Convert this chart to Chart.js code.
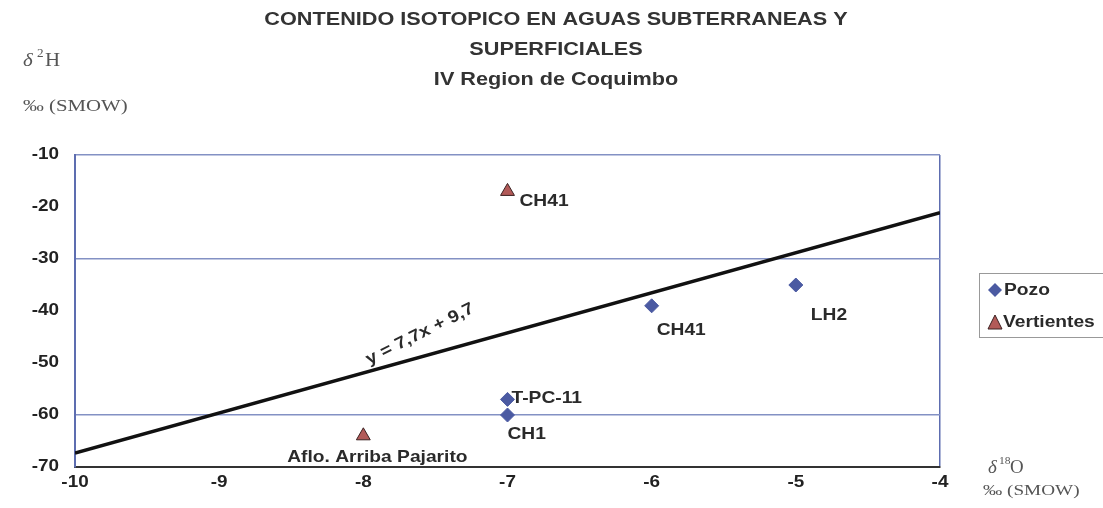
<!DOCTYPE html>
<html>
<head>
<meta charset="utf-8">
<script src="https://cdn.jsdelivr.net/npm/chart.js@4.4.1/dist/chart.umd.min.js"></script>
<style>
  html, body { margin: 0; padding: 0; background: #fff; }
  #wrap { width: 1103px; height: 508px; }
</style>
</head>
<body>
<div id="wrap"><canvas id="isoChart" width="1103" height="508"></canvas></div>
<script>
// valores
const pozoX = [-7, -7, -6, -5];
const pozoY = [-57, -60, -39, -35];
const pozoNames = ["T-PC-11", "CH1", "CH41", "LH2"];

const vertX = [-7, -8];
const vertY = [-17, -64];
const vertNames = ["CH41", "Aflo. Arriba Pajarito"];

const lineX = [-10, -4];
const lineY = [-67.3, -21.1];

const xTicks = [-10, -9, -8, -7, -6, -5, -4];
const yTicks = [-70, -60, -50, -40, -30, -20, -10];

// donde va cada etiqueta respecto a su punto (px)
const pozoLabelPos = [[4, -1, "left"], [0, 19, "left"], [5, 25, "left"], [15, 30, "left"]];
const vertLabelPos = [[12, 10, "left"], [14, 22, "center"]];

const blue = "#4B5AA2";
const red = "#B25A58";
const gridBlue = "#8391C4";
const SANS = "'Liberation Sans', Arial, sans-serif";
const SERIF = "'Liberation Serif', 'Times New Roman', serif";

const pts = (xs, ys) => xs.map((x, i) => ({ x: x, y: ys[i] }));

// texto estirado en horizontal (el original viene algo ancho)
function txt(c, s, x, y, align, font, sx, rot) {
  c.save();
  c.translate(x, y);
  if (rot) c.rotate(rot);
  c.scale(sx, 1);
  c.font = font;
  c.textAlign = align;
  c.fillText(s, 0, 0);
  c.restore();
}

const textPlugin = {
  id: "textPlugin",
  afterDraw(chart) {
    const c = chart.ctx;
    const xs = chart.scales.x, ys = chart.scales.y;
    c.save();
    c.textBaseline = "middle";

    // titulo
    c.fillStyle = "#333";
    const tf = "bold 19px " + SANS;
    txt(c, "CONTENIDO ISOTOPICO EN AGUAS SUBTERRANEAS Y", 556, 20, "center", tf, 1.14);
    txt(c, "SUPERFICIALES", 556, 50, "center", tf, 1.14);
    txt(c, "IV Region de Coquimbo", 556, 80, "center", tf, 1.14);

    // ticks
    c.fillStyle = "#222";
    const kf = "bold 16px " + SANS;
    yTicks.forEach((v) => txt(c, String(v), 59, ys.getPixelForValue(v), "right", kf, 1.18));
    xTicks.forEach((v) => txt(c, String(v), xs.getPixelForValue(v), 483, "center", kf, 1.18));

    // etiquetas de puntos
    c.fillStyle = "#2a2a2a";
    const lf = "bold 17px " + SANS;
    const put = (xv, yv, names, pos) => {
      names.forEach((n, i) => {
        const px = xs.getPixelForValue(xv[i]);
        const py = ys.getPixelForValue(yv[i]);
        txt(c, n, px + pos[i][0], py + pos[i][1], pos[i][2], lf, 1.13);
      });
    };
    put(pozoX, pozoY, pozoNames, pozoLabelPos);
    put(vertX, vertY, vertNames, vertLabelPos);

    // ecuacion de la recta
    txt(c, "y = 7,7x + 9,7", 420, 334, "center", "bold 17px " + SANS, 1.13, -26.5 * Math.PI / 180);

    // titulos de ejes
    c.fillStyle = "#555";
    txt(c, "\u03B4", 23, 61, "left", "italic 19px " + SERIF, 1.1);
    txt(c, "2", 37, 54, "left", "12px " + SERIF, 1.1);
    txt(c, "H", 45, 61, "left", "19px " + SERIF, 1.1);
    txt(c, "\u2030 (SMOW)", 23, 107, "left", "16px " + SERIF, 1.3);

    txt(c, "\u03B4", 988, 468, "left", "italic 18px " + SERIF, 1.05);
    txt(c, "18", 999, 461, "left", "11px " + SERIF, 1.05);
    txt(c, "O", 1010, 468, "left", "18px " + SERIF, 1.05);
    txt(c, "\u2030 (SMOW)", 983, 491, "left", "15px " + SERIF, 1.28);

    // leyenda
    c.strokeStyle = "#999";
    c.lineWidth = 1;
    c.strokeRect(979.5, 273.5, 130, 64);
    c.fillStyle = blue;
    c.beginPath();
    c.moveTo(995, 283); c.lineTo(1002, 290); c.lineTo(995, 297); c.lineTo(988, 290);
    c.closePath(); c.fill();
    c.fillStyle = red;
    c.strokeStyle = "#3a2020";
    c.beginPath();
    c.moveTo(995, 315); c.lineTo(1002, 329); c.lineTo(988, 329);
    c.closePath(); c.fill(); c.stroke();
    c.fillStyle = "#2a2a2a";
    const gf = "bold 16px " + SANS;
    txt(c, "Pozo", 1004, 291, "left", gf, 1.2);
    txt(c, "Vertientes", 1003, 323, "left", gf, 1.2);
    c.restore();
  }
};

const ctx = document.getElementById("isoChart").getContext("2d");
const isoChart = new Chart(ctx, {
  type: "scatter",
  data: {
    datasets: [
      {
        type: "line",
        label: "recta",
        data: pts(lineX, lineY),
        borderColor: "#111",
        borderWidth: 3.5,
        pointRadius: 0,
        fill: false,
      },
      {
        label: "Pozo",
        data: pts(pozoX, pozoY),
        pointStyle: "rectRot",
        pointRadius: 7,
        backgroundColor: blue,
        borderColor: blue,
        borderWidth: 1,
      },
      {
        label: "Vertientes",
        data: pts(vertX, vertY),
        pointStyle: "triangle",
        pointRadius: 8,
        backgroundColor: red,
        borderColor: "#3a2020",
        borderWidth: 1,
      },
    ],
  },
  options: {
    responsive: false,
    animation: false,
    layout: { padding: { top: 155, right: 163, bottom: 0, left: 0 } },
    scales: {
      x: {
        type: "linear",
        min: -10,
        max: -4,
        afterFit: (s) => { s.height = 41; },
        afterBuildTicks: (s) => { s.ticks = xTicks.map((v) => ({ value: v })); },
        grid: {
          drawTicks: false,
          color: (c) => (c.tick && c.tick.value === -4 ? "#5D6DB0" : "rgba(0,0,0,0)"),
          lineWidth: 1.5,
        },
        border: { color: "#333", width: 2 },
        ticks: { color: "rgba(0,0,0,0)", padding: 8, font: { size: 16 } },
      },
      y: {
        min: -70,
        max: -10,
        afterFit: (s) => { s.width = 75; },
        afterBuildTicks: (s) => { s.ticks = yTicks.map((v) => ({ value: v })); },
        grid: {
          drawTicks: false,
          color: (c) => {
            const v = c.tick && c.tick.value;
            return v === -30 || v === -60 || v === -10 ? gridBlue : "rgba(0,0,0,0)";
          },
          lineWidth: 1.5,
        },
        border: { color: "#5D6DB0", width: 2 },
        ticks: { color: "rgba(0,0,0,0)", padding: 15, font: { size: 16 } },
      },
    },
    plugins: {
      legend: { display: false },
      title: { display: false },
      tooltip: { enabled: false },
    },
  },
  plugins: [textPlugin],
});
</script>
</body>
</html>
